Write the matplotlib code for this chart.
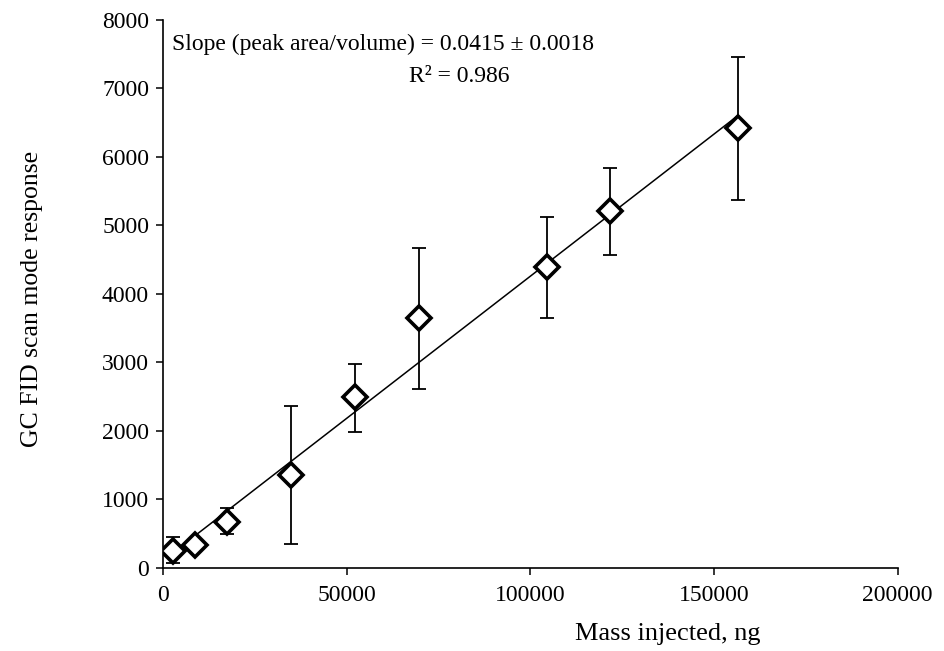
from matplotlib import pyplot as plt
import numpy as np

# Mass injected (ng) vs GC FID scan mode response, with error bars
mass_ng = [2610, 8700, 17400, 34800, 52200, 69600, 104400, 121800, 156600]
response = [248, 336, 676, 1358, 2500, 3654, 4390, 5212, 6419]
err_low = [175, 0, 184, 1003, 510, 1041, 736, 638, 1047]
err_high = [202, 0, 195, 1012, 480, 1022, 730, 623, 1036]

# Trend line (slope from the annotation, intercept)
slope = 0.0415
intercept = 110

plt.rcParams['font.family'] = ['Liberation Serif', 'DejaVu Serif']

fig = plt.figure(figsize=(9.45, 6.51), dpi=100)
ax = fig.add_axes([0.1725, 0.1275, 0.7775, 0.8418])

# Fit line across the data range
line_x = np.array([mass_ng[0], mass_ng[-1]])
ax.plot(line_x, slope * line_x + intercept, color='black', lw=1.1, zorder=2)

ax.errorbar(mass_ng, response, yerr=[err_low, err_high], fmt='none',
            ecolor='black', elinewidth=1.3, capsize=5, capthick=1.3, zorder=3)
ax.plot(mass_ng, response, 'D', ms=12.5, mfc='white', mec='black', mew=2.6,
        zorder=4)

ax.set_xlim(0, 200000)
ax.set_ylim(0, 8000)
ax.set_xticks(np.arange(0, 200001, 50000))
ax.set_yticks(np.arange(0, 8001, 1000))
ax.spines['top'].set_visible(False)
ax.spines['right'].set_visible(False)
for s in ['left', 'bottom']:
    ax.spines[s].set_linewidth(1.2)
ax.tick_params(direction='out', length=5, width=1.1, labelsize=17)
ax.tick_params(axis='x', pad=7)
ax.tick_params(axis='y', pad=5)

# Axis titles placed as in the original (x title sits right of centre)
fig.text(668 / 945, 1 - 634 / 651, 'Mass injected, ng', fontsize=19,
         ha='center', va='center')
fig.text(32 / 945, 1 - 299 / 651, 'GC FID scan mode response', fontsize=18.5,
         ha='center', va='center', rotation=90)

fig.text(383 / 945, 1 - 44 / 651, 'Slope (peak area/volume) = 0.0415 \u00b1 0.0018',
         fontsize=17, ha='center', va='center')
fig.text(459 / 945, 1 - 77 / 651, 'R\u00b2 = 0.986', fontsize=17,
         ha='center', va='center')

fig.savefig('out.png', dpi=100)
